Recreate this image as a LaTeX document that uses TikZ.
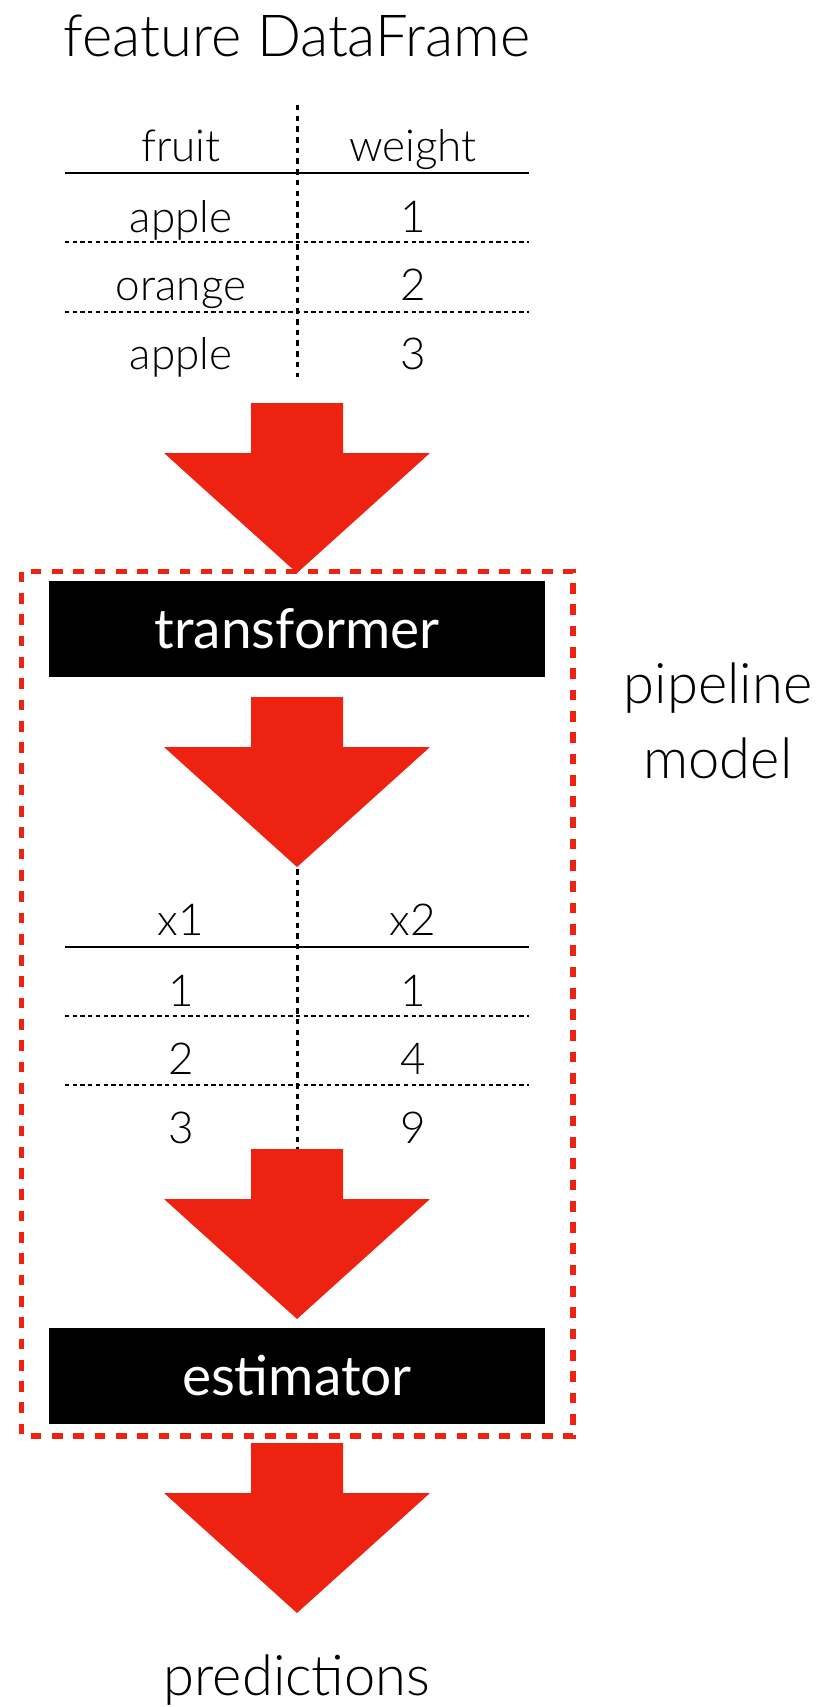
\documentclass[tikz,border=0pt]{standalone}
\usepackage{fontspec}
\setmainfont{Lato Light}
\newfontfamily\boxfont{Lato}
\definecolor{arrowred}{RGB}{238,34,16}
\tikzset{
  bigarrow/.pic={
    \fill[arrowred] (-46,0) -- (46,0) -- (46,50) -- (133,50) -- (0,170) -- (-133,50) -- (-46,50) -- cycle;
  },
  titletext/.style={anchor=base, inner sep=0pt, font=\fontsize{58}{70}\selectfont},
  tabtext/.style={anchor=base, inner sep=0pt, font=\fontsize{44}{53}\selectfont},
  sidetext/.style={anchor=base, inner sep=0pt, font=\fontsize{56}{67}\selectfont},
  blackbox/.style={fill=black, text=white, minimum width=496pt, minimum height=96pt, inner sep=0pt, font=\boxfont\fontsize{55}{66}\selectfont},
  vdash/.style={draw=black, line width=3pt, dash pattern=on 5.5pt off 5.2pt},
  hdot/.style={draw=black, line width=2.7pt, dash pattern=on 4.3pt off 3.4pt},
  hsolid/.style={draw=black, line width=2.7pt},
  reddash/.style={draw=arrowred, line width=5.3pt, dash pattern=on 10.7pt off 10.6pt},
}
\begin{document}
\begin{tikzpicture}[x=1pt, y=-1pt]
\useasboundingbox (0,0) rectangle (826,1707);

% title
\node[titletext] (title) at (297,57) {feature DataFrame};

% table 1
\coordinate (t1top) at (297,105);
\coordinate (t1bot) at (297,377);
\draw[vdash] (t1top) -- (t1bot);
\coordinate (t1hl) at (65,173); \coordinate (t1hr) at (529,173);
\draw[hsolid] (t1hl) -- (t1hr);
\coordinate (t1al) at (65,242); \coordinate (t1ar) at (529,242);
\draw[hdot] (t1al) -- (t1ar);
\coordinate (t1bl) at (65,312); \coordinate (t1br) at (529,312);
\draw[hdot] (t1bl) -- (t1br);
\node[tabtext] (h1a) at (181,162) {fruit};
\node[tabtext] (h1b) at (413,162) {weight};
\node[tabtext] (r1a) at (181,232) {apple};
\node[tabtext] (r1b) at (413,232) {1};
\node[tabtext] (r2a) at (181,300) {orange};
\node[tabtext] (r2b) at (413,300) {2};
\node[tabtext] (r3a) at (181,369) {apple};
\node[tabtext] (r3b) at (413,369) {3};

% arrow 1
\pic at (297,403) {bigarrow};

% pipeline frame
\coordinate (fr1) at (21.7,571.7); \coordinate (fr2) at (573,1436);
\draw[reddash] (fr1) rectangle (fr2);

\node[blackbox] (transformer) at (297,629) {transformer};

% arrow 2
\pic at (297,697) {bigarrow};

% table 2
\coordinate (t2top) at (297,869);
\coordinate (t2bot) at (297,1150);
\draw[vdash] (t2top) -- (t2bot);
\coordinate (t2hl) at (65,947); \coordinate (t2hr) at (529,947);
\draw[hsolid] (t2hl) -- (t2hr);
\coordinate (t2al) at (65,1016); \coordinate (t2ar) at (529,1016);
\draw[hdot] (t2al) -- (t2ar);
\coordinate (t2bl) at (65,1085); \coordinate (t2br) at (529,1085);
\draw[hdot] (t2bl) -- (t2br);
\node[tabtext] (h2a) at (181,935) {x1};
\node[tabtext] (h2b) at (413,935) {x2};
\node[tabtext] (s1a) at (181,1006) {1};
\node[tabtext] (s1b) at (413,1006) {1};
\node[tabtext] (s2a) at (181,1074) {2};
\node[tabtext] (s2b) at (413,1074) {4};
\node[tabtext] (s3a) at (181,1143) {3};
\node[tabtext] (s3b) at (413,1143) {9};

% arrow 3
\pic at (297,1149) {bigarrow};

\node[blackbox] (estimator) at (297,1376) {estimator};

% arrow 4
\pic at (297,1443) {bigarrow};

\node[titletext, font=\fontsize{56}{67}\selectfont] (predictions) at (297,1695) {predictions};

% side label
\node[sidetext] (pipe1) at (718,703) {pipeline};
\node[sidetext] (pipe2) at (718,778) {model};
\end{tikzpicture}
\end{document}
